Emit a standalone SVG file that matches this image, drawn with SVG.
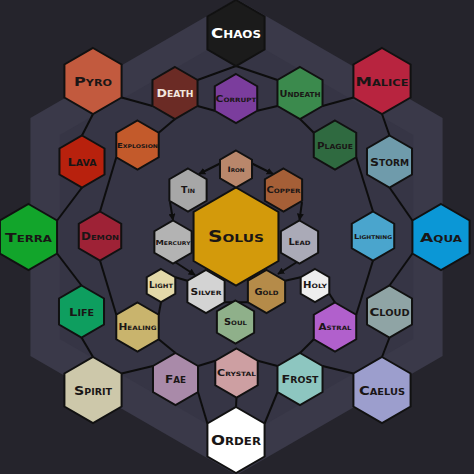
<svg xmlns="http://www.w3.org/2000/svg" xmlns:xlink="http://www.w3.org/1999/xlink" width="474" height="474" viewBox="0 0 474 474">
<style>
.hex{stroke:#111;stroke-width:2;stroke-linejoin:miter}
.ln{stroke:#0d0d0d;stroke-width:2;fill:none}
.ar{stroke:#0d0d0d;stroke-width:2;fill:none;marker-end:url(#arr)}
text{font-family:"DejaVu Sans","Liberation Sans",sans-serif;font-weight:bold;font-variant:small-caps;text-anchor:middle;fill:#1a1616}
.w{fill:#ffffff}
.lt{fill:#f2e6de}
</style>
<defs>
<polygon id="hL" class="hex" points="0,-33 28.58,-16.5 28.58,16.5 0,33 -28.58,16.5 -28.58,-16.5"/>
<polygon id="hM" class="hex" points="0,-26 22.52,-13 22.52,13 0,26 -22.52,13 -22.52,-13"/>
<polygon id="hS" class="hex" points="0,-24.5 21.22,-12.25 21.22,12.25 0,24.5 -21.22,12.25 -21.22,-12.25"/>
<polygon id="hX" class="hex" points="0,-49 42.44,-24.5 42.44,24.5 0,49 -42.44,24.5 -42.44,-24.5"/>
<polygon id="hI" class="hex" points="0,-21.5 18.62,-10.75 18.62,10.75 0,21.5 -18.62,10.75 -18.62,-10.75"/>
<polygon id="hT" class="hex" points="0,-18.5 16.02,-9.25 16.02,9.25 0,18.5 -16.02,9.25 -16.02,-9.25"/>
<polygon id="hJ" class="hex" points="0,-16.5 14.29,-8.25 14.29,8.25 0,16.5 -14.29,8.25 -14.29,-8.25"/>
<marker id="arr" viewBox="0 0 10 10" refX="9" refY="5" markerWidth="7" markerHeight="7" markerUnits="userSpaceOnUse" orient="auto">
<path d="M0,0 L10,5 L0,10 z" fill="#0d0d0d"/>
</marker>
</defs>
<g id="background">
<rect x="0" y="0" width="474" height="474" fill="#25242c"/>
<polygon points="236.5,-1 442.6,118 442.6,356 236.5,475 30.4,356 30.4,118" fill="#3a3949"/>
<polygon points="236.5,33 413.2,135 413.2,339 236.5,441 59.8,339 59.8,135" fill="#363545"/>
</g>
<g id="connectors">
<line class="ln" x1="236" y1="66" x2="197.5" y2="80"/>
<line class="ln" x1="236" y1="66" x2="277.5" y2="80"/>
<line class="ln" x1="197.5" y1="106" x2="214.8" y2="110.75"/>
<line class="ln" x1="257.2" y1="110.75" x2="277.5" y2="106"/>
<line class="ln" x1="121.6" y1="97.5" x2="152.5" y2="106"/>
<line class="ln" x1="353.4" y1="97.5" x2="322.5" y2="106"/>
<line class="ln" x1="93" y1="114" x2="82" y2="135.5"/>
<line class="ln" x1="382" y1="114" x2="389.5" y2="135.5"/>
<line class="ln" x1="175" y1="119" x2="158.7" y2="132.75"/>
<line class="ln" x1="300" y1="119" x2="313.8" y2="132.75"/>
<line class="ln" x1="82" y1="187.5" x2="57.1" y2="220.5"/>
<line class="ln" x1="389.5" y1="187.5" x2="412.4" y2="220.5"/>
<line class="ln" x1="116.3" y1="157.25" x2="100" y2="211.5"/>
<line class="ln" x1="356.2" y1="157.25" x2="373" y2="211.5"/>
<line class="ln" x1="57.1" y1="253.5" x2="81.5" y2="285.5"/>
<line class="ln" x1="412.4" y1="253.5" x2="389.5" y2="285.5"/>
<line class="ln" x1="100" y1="260.5" x2="116.3" y2="314.75"/>
<line class="ln" x1="373" y1="260.5" x2="356.2" y2="314.75"/>
<line class="ln" x1="81.5" y1="337.5" x2="93" y2="357"/>
<line class="ln" x1="389.5" y1="337.5" x2="382" y2="357"/>
<line class="ln" x1="161" y1="302" x2="158.7" y2="314.75"/>
<line class="ln" x1="175.3" y1="277.25" x2="187.4" y2="280.75"/>
<line class="ln" x1="285.1" y1="280.75" x2="300.7" y2="277.25"/>
<line class="ln" x1="329.3" y1="293.75" x2="335" y2="302.5"/>
<line class="ln" x1="224.6" y1="302.25" x2="247.9" y2="302.25"/>
<line class="ln" x1="158.7" y1="339.25" x2="175.5" y2="353"/>
<line class="ln" x1="313.8" y1="339.25" x2="300" y2="353"/>
<line class="ln" x1="121.6" y1="373.5" x2="153" y2="366"/>
<line class="ln" x1="353.4" y1="373.5" x2="322.5" y2="366"/>
<line class="ln" x1="198" y1="366" x2="215.3" y2="360.75"/>
<line class="ln" x1="257.7" y1="360.75" x2="277.5" y2="366"/>
<line class="ln" x1="198" y1="392" x2="207.4" y2="423.5"/>
<line class="ln" x1="277.5" y1="392" x2="264.6" y2="423.5"/>
<line class="ln" x1="236.5" y1="397.5" x2="236" y2="407"/>
<line class="ar" x1="221" y1="163" x2="199" y2="174"/>
<line class="ar" x1="251" y1="163" x2="273" y2="174"/>
<line class="ar" x1="170" y1="202" x2="173" y2="220"/>
<line class="ar" x1="302" y1="202" x2="299.5" y2="220"/>
<line class="ar" x1="175" y1="262" x2="195" y2="275"/>
<line class="ar" x1="297" y1="262" x2="278" y2="274"/>
</g>
<g id="node-chaos"><use href="#hL" x="236" y="33" fill="#1b1b1b"/><text class="w" x="236" y="38" font-size="14" textLength="50" lengthAdjust="spacingAndGlyphs">Chaos</text></g>
<g id="node-pyro"><use href="#hL" x="93" y="81" fill="#c25a3e"/><text x="93" y="86" font-size="13" textLength="38" lengthAdjust="spacingAndGlyphs">Pyro</text></g>
<g id="node-malice"><use href="#hL" x="382" y="81" fill="#b8243f"/><text x="382" y="86" font-size="13" textLength="53" lengthAdjust="spacingAndGlyphs">Malice</text></g>
<g id="node-terra"><use href="#hL" x="28.5" y="237" fill="#12a52b"/><text x="28.5" y="242" font-size="13" textLength="47" lengthAdjust="spacingAndGlyphs">Terra</text></g>
<g id="node-aqua"><use href="#hL" x="441" y="237" fill="#0b97d6"/><text x="441" y="242" font-size="13" textLength="42" lengthAdjust="spacingAndGlyphs">Aqua</text></g>
<g id="node-spirit"><use href="#hL" x="93" y="390" fill="#cdc8aa"/><text x="93" y="394.5" font-size="12" textLength="38" lengthAdjust="spacingAndGlyphs">Spirit</text></g>
<g id="node-caelus"><use href="#hL" x="382" y="390" fill="#9c9ecd"/><text x="382" y="394.5" font-size="12" textLength="46" lengthAdjust="spacingAndGlyphs">Caelus</text></g>
<g id="node-order"><use href="#hL" x="236" y="440" fill="#ffffff"/><text x="236" y="445" font-size="14" textLength="50" lengthAdjust="spacingAndGlyphs">Order</text></g>
<g id="node-death"><use href="#hM" x="175" y="93" fill="#6b2b25"/><text class="lt" x="175" y="97" font-size="11" textLength="37" lengthAdjust="spacingAndGlyphs">Death</text></g>
<g id="node-corrupt"><use href="#hS" x="236" y="98.5" fill="#7b3d9d"/><text x="236" y="101.8" font-size="9" textLength="41" lengthAdjust="spacingAndGlyphs">Corrupt</text></g>
<g id="node-undeath"><use href="#hM" x="300" y="93" fill="#3b8a4d"/><text x="300" y="96.5" font-size="9.5" textLength="41" lengthAdjust="spacingAndGlyphs">Undeath</text></g>
<g id="node-explosion"><use href="#hS" x="137.5" y="145" fill="#c35a2b"/><text x="137.5" y="147.5" font-size="7" textLength="41" lengthAdjust="spacingAndGlyphs">Explosion</text></g>
<g id="node-plague"><use href="#hS" x="335" y="145" fill="#2f6a40"/><text x="335" y="148.5" font-size="9.5" textLength="36" lengthAdjust="spacingAndGlyphs">Plague</text></g>
<g id="node-lava"><use href="#hM" x="82" y="161.5" fill="#b8210d"/><text x="82" y="165.5" font-size="11" textLength="29" lengthAdjust="spacingAndGlyphs">Lava</text></g>
<g id="node-storm"><use href="#hM" x="389.5" y="161.5" fill="#6f9bab"/><text x="389.5" y="165.5" font-size="11" textLength="39" lengthAdjust="spacingAndGlyphs">Storm</text></g>
<g id="node-demon"><use href="#hS" x="100" y="236" fill="#9e2236"/><text x="100" y="239.6" font-size="10" textLength="38" lengthAdjust="spacingAndGlyphs">Demon</text></g>
<g id="node-lightning"><use href="#hS" x="373" y="236" fill="#4aa5cd"/><text x="373" y="238.5" font-size="7" textLength="38" lengthAdjust="spacingAndGlyphs">Lightning</text></g>
<g id="node-life"><use href="#hM" x="81.5" y="311.5" fill="#0e9e5f"/><text x="81.5" y="315.5" font-size="11" textLength="25" lengthAdjust="spacingAndGlyphs">Life</text></g>
<g id="node-cloud"><use href="#hM" x="389.5" y="311.5" fill="#8fa4a5"/><text x="389.5" y="315.5" font-size="11" textLength="40" lengthAdjust="spacingAndGlyphs">Cloud</text></g>
<g id="node-healing"><use href="#hS" x="137.5" y="327" fill="#c9b46d"/><text x="137.5" y="330.3" font-size="9" textLength="38" lengthAdjust="spacingAndGlyphs">Healing</text></g>
<g id="node-astral"><use href="#hS" x="335" y="327" fill="#b160cc"/><text x="335" y="330.3" font-size="9" textLength="33" lengthAdjust="spacingAndGlyphs">Astral</text></g>
<g id="node-fae"><use href="#hM" x="175.5" y="379" fill="#a98aa9"/><text x="175.5" y="383" font-size="11" textLength="21" lengthAdjust="spacingAndGlyphs">Fae</text></g>
<g id="node-crystal"><use href="#hS" x="236.5" y="373" fill="#cd9fa2"/><text x="236.5" y="376.2" font-size="9" textLength="39" lengthAdjust="spacingAndGlyphs">Crystal</text></g>
<g id="node-frost"><use href="#hM" x="300" y="379" fill="#8dc6c0"/><text x="300" y="383" font-size="11" textLength="37" lengthAdjust="spacingAndGlyphs">Frost</text></g>
<g id="node-solus"><use href="#hX" x="236" y="236.5" fill="#d39a0b"/><text x="236" y="242.3" font-size="16" textLength="56" lengthAdjust="spacingAndGlyphs">Solus</text></g>
<g id="node-iron"><use href="#hT" x="236" y="169" fill="#b9876b"/><text x="236" y="171.7" font-size="7.5" textLength="17" lengthAdjust="spacingAndGlyphs">Iron</text></g>
<g id="node-tin"><use href="#hI" x="188" y="190" fill="#a7a7a7"/><text x="188" y="193.2" font-size="9" textLength="14" lengthAdjust="spacingAndGlyphs">Tin</text></g>
<g id="node-copper"><use href="#hI" x="283.5" y="190" fill="#a55f37"/><text x="283.5" y="193" font-size="8.5" textLength="34" lengthAdjust="spacingAndGlyphs">Copper</text></g>
<g id="node-mercury"><use href="#hI" x="173" y="242" fill="#b3b3b3"/><text x="173" y="244.5" font-size="7" textLength="35" lengthAdjust="spacingAndGlyphs">Mercury</text></g>
<g id="node-lead"><use href="#hI" x="299.5" y="242" fill="#aaaab7"/><text x="299.5" y="245" font-size="8.5" textLength="22" lengthAdjust="spacingAndGlyphs">Lead</text></g>
<g id="node-silver"><use href="#hI" x="206" y="291.5" fill="#d3d3d3"/><text x="206" y="294.5" font-size="8.5" textLength="31" lengthAdjust="spacingAndGlyphs">Silver</text></g>
<g id="node-gold"><use href="#hI" x="266.5" y="291.5" fill="#b58b49"/><text x="266.5" y="294.5" font-size="8.5" textLength="24" lengthAdjust="spacingAndGlyphs">Gold</text></g>
<g id="node-soul"><use href="#hI" x="235.5" y="322" fill="#8fb08a"/><text x="235.5" y="325" font-size="8.5" textLength="23" lengthAdjust="spacingAndGlyphs">Soul</text></g>
<g id="node-light"><use href="#hJ" x="161" y="285.5" fill="#e3d9a9"/><text x="161" y="288.4" font-size="8" textLength="24" lengthAdjust="spacingAndGlyphs">Light</text></g>
<g id="node-holy"><use href="#hJ" x="315" y="285.5" fill="#eeeeee"/><text x="315" y="288.4" font-size="8" textLength="24" lengthAdjust="spacingAndGlyphs">Holy</text></g>
</svg>
